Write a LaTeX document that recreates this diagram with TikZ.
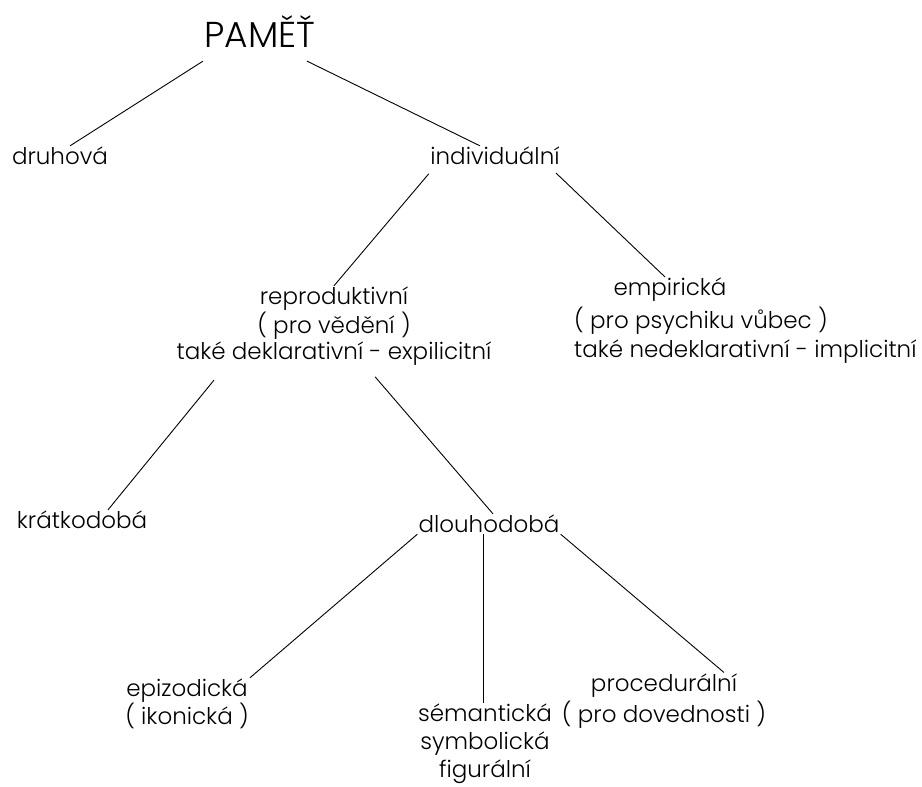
\documentclass[tikz,border=0pt]{standalone}
\usepackage{fontspec}
\setmainfont{Poppins}[UprightFont=* Light]
\usetikzlibrary{positioning}

\begin{document}
\begin{tikzpicture}[x=1pt,y=-1pt,
  lbl/.style={inner sep=1pt,align=center,font=\fontsize{23}{28}\selectfont},
  edge/.style={line width=0.9pt}]
  \useasboundingbox (0,0) rectangle (922,787);
  \node[inner sep=1pt,font=\fontsize{36}{40}\selectfont] (pamet) at (260,32) {PAMĚŤ};
  \node[lbl] (druhova) at (60,156) {druhová};
  \node[lbl] (individualni) at (495,156) {individuální};
  \node[lbl,font=\fontsize{23}{26}\selectfont] (repro) at (334,326) {reproduktivní\\( pro vědění )\\také deklarativní - expilicitní};
  \node[lbl] (empiricka) at (670,290) {empirická};
  \node[lbl,align=left,anchor=west,font=\fontsize{23}{29}\selectfont] (empirickab) at (573,335) {( pro psychiku vůbec )\\také nedeklarativní - implicitní};
  \node[lbl] (kratkodoba) at (82,520) {krátkodobá};
  \node[lbl] (dlouhodoba) at (489,524) {dlouhodobá};
  \node[lbl] (epizodicka) at (187,704) {epizodická\\( ikonická )};
  \node[lbl] (semanticka) at (485,744) {sémantická\\symbolická\\figurální};
  \node[lbl,font=\fontsize{23}{31}\selectfont] (proceduralni) at (664,701) {procedurální\\( pro dovednosti )};

  \draw[edge] ([shift={(-57,12)}]pamet.south) -- ([xshift=10pt]druhova.north);
  \draw[edge] ([shift={(47,12)}]pamet.south) -- ([xshift=-15pt]individualni.north);
  \draw[edge,shorten <=10pt] ([xshift=6pt]individualni.south west) -- (repro.north);
  \draw[edge,shorten <=10pt] ([xshift=-12pt]individualni.south east) -- ([xshift=-5pt]empiricka.north);
  \draw[edge,shorten <=18pt] ([xshift=50pt]repro.south west) -- ([xshift=26pt]kratkodoba.north);
  \draw[edge,shorten <=14pt] ([xshift=32pt]repro.south) -- ([xshift=4pt]dlouhodoba.north);
  \draw[edge] (dlouhodoba.south west) -- (epizodicka.north east);
  \draw[edge] ([xshift=-6pt]dlouhodoba.south) -- ([xshift=-6pt]dlouhodoba.south |- semanticka.north);
  \draw[edge] (dlouhodoba.south east) -- ([xshift=60pt]proceduralni.north);
\end{tikzpicture}
\end{document}
